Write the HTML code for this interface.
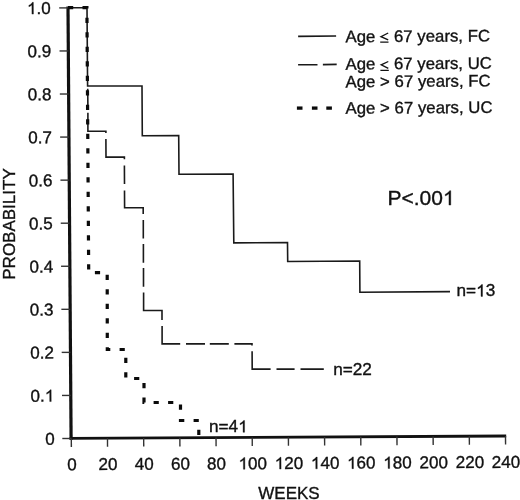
<!DOCTYPE html>
<html><head><meta charset="utf-8"><title>Kaplan-Meier</title>
<style>
html,body{margin:0;padding:0;background:#fff;}
body{width:520px;height:500px;overflow:hidden;}
svg{display:block;will-change:transform;}
.h{fill:transparent;stroke:none;}
text{font-family:"Liberation Sans",sans-serif;fill:#111;stroke:#111;stroke-width:0.35px;}
</style></head>
<body>
<svg width="520" height="500" viewBox="0 0 520 500">
<rect width="520" height="500" fill="#fff"/>
<line x1="68" y1="6.4" x2="71.1" y2="439.8" stroke="#111" stroke-width="3.2"/>
<line x1="69.6" y1="438.4" x2="506.2" y2="436" stroke="#111" stroke-width="2.8"/>
<line x1="62.30" y1="438.50" x2="71.10" y2="438.50" stroke="#333" stroke-width="1.4"/>
<text x="54.77" y="444.60" text-anchor="end" font-size="17.1" transform="rotate(-0.37 54.77 444.60)">0</text>
<line x1="61.99" y1="395.44" x2="70.79" y2="395.44" stroke="#333" stroke-width="1.4"/>
<text id="t1" x="54.38" y="401.54" text-anchor="end" font-size="17.1" transform="rotate(-0.37 54.38 401.54)">0.<tspan class="h">1</tspan></text><g transform="rotate(-0.37 54.38 401.54)"><path d="M763,0 L583,0 L583,1102.4031377899043 Q518,1042.8137789904501 412.5,983.2244201909958 Q307,923.6350613915415 223,893.8403819918144 L223,1061.075034106412 Q374,1129.3144611186904 487,1226.387448840382 Q600,1323.4604365620737 647,1409.0 L763,1409.0 Z" transform="translate(44.86 401.54) scale(0.00835 -0.00835)" fill="#111" stroke="#111" stroke-width="0.35" vector-effect="non-scaling-stroke"/></g>
<line x1="61.68" y1="352.38" x2="70.48" y2="352.38" stroke="#333" stroke-width="1.4"/>
<text x="53.98" y="358.48" text-anchor="end" font-size="17.1" transform="rotate(-0.37 53.98 358.48)">0.2</text>
<line x1="61.37" y1="309.32" x2="70.17" y2="309.32" stroke="#333" stroke-width="1.4"/>
<text x="53.59" y="315.42" text-anchor="end" font-size="17.1" transform="rotate(-0.37 53.59 315.42)">0.3</text>
<line x1="61.06" y1="266.26" x2="69.86" y2="266.26" stroke="#333" stroke-width="1.4"/>
<text x="53.20" y="272.36" text-anchor="end" font-size="17.1" transform="rotate(-0.37 53.20 272.36)">0.4</text>
<line x1="60.75" y1="223.20" x2="69.55" y2="223.20" stroke="#333" stroke-width="1.4"/>
<text x="52.81" y="229.30" text-anchor="end" font-size="17.1" transform="rotate(-0.37 52.81 229.30)">0.5</text>
<line x1="60.44" y1="180.14" x2="69.24" y2="180.14" stroke="#333" stroke-width="1.4"/>
<text x="52.42" y="186.24" text-anchor="end" font-size="17.1" transform="rotate(-0.37 52.42 186.24)">0.6</text>
<line x1="60.13" y1="137.08" x2="68.93" y2="137.08" stroke="#333" stroke-width="1.4"/>
<text x="52.02" y="143.18" text-anchor="end" font-size="17.1" transform="rotate(-0.37 52.02 143.18)">0.7</text>
<line x1="59.82" y1="94.02" x2="68.62" y2="94.02" stroke="#333" stroke-width="1.4"/>
<text x="51.63" y="100.12" text-anchor="end" font-size="17.1" transform="rotate(-0.37 51.63 100.12)">0.8</text>
<line x1="59.52" y1="50.96" x2="68.32" y2="50.96" stroke="#333" stroke-width="1.4"/>
<text x="51.24" y="57.06" text-anchor="end" font-size="17.1" transform="rotate(-0.37 51.24 57.06)">0.9</text>
<line x1="59.21" y1="7.90" x2="68.01" y2="7.90" stroke="#333" stroke-width="1.4"/>
<text id="t10" x="50.85" y="14.00" text-anchor="end" font-size="17.1" transform="rotate(-0.37 50.85 14.00)"><tspan class="h">1</tspan>.0</text><g transform="rotate(-0.37 50.85 14.00)"><path d="M763,0 L583,0 L583,1102.4031377899043 Q518,1042.8137789904501 412.5,983.2244201909958 Q307,923.6350613915415 223,893.8403819918144 L223,1061.075034106412 Q374,1129.3144611186904 487,1226.387448840382 Q600,1323.4604365620737 647,1409.0 L763,1409.0 Z" transform="translate(27.07 14.00) scale(0.00835 -0.00835)" fill="#111" stroke="#111" stroke-width="0.35" vector-effect="non-scaling-stroke"/></g>
<line x1="71.30" y1="438.40" x2="71.36" y2="447.00" stroke="#333" stroke-width="1.4"/>
<text x="71.90" y="470.20" text-anchor="middle" font-size="17.1" transform="rotate(-0.37 71.30 470.20)">0</text>
<line x1="107.48" y1="438.20" x2="107.54" y2="446.80" stroke="#333" stroke-width="1.4"/>
<text x="108.08" y="470.00" text-anchor="middle" font-size="17.1" transform="rotate(-0.37 107.48 470.00)">20</text>
<line x1="143.67" y1="438.00" x2="143.73" y2="446.60" stroke="#333" stroke-width="1.4"/>
<text x="144.27" y="469.80" text-anchor="middle" font-size="17.1" transform="rotate(-0.37 143.67 469.80)">40</text>
<line x1="179.85" y1="437.80" x2="179.91" y2="446.40" stroke="#333" stroke-width="1.4"/>
<text x="180.45" y="469.60" text-anchor="middle" font-size="17.1" transform="rotate(-0.37 179.85 469.60)">60</text>
<line x1="216.03" y1="437.60" x2="216.09" y2="446.20" stroke="#333" stroke-width="1.4"/>
<text x="216.63" y="469.40" text-anchor="middle" font-size="17.1" transform="rotate(-0.37 216.03 469.40)">80</text>
<line x1="252.22" y1="437.40" x2="252.28" y2="446.00" stroke="#333" stroke-width="1.4"/>
<text id="t16" x="252.82" y="469.20" text-anchor="middle" font-size="17.1" transform="rotate(-0.37 252.22 469.20)"><tspan class="h">1</tspan>00</text><g transform="rotate(-0.37 252.22 469.20)"><path d="M763,0 L583,0 L583,1102.4031377899043 Q518,1042.8137789904501 412.5,983.2244201909958 Q307,923.6350613915415 223,893.8403819918144 L223,1061.075034106412 Q374,1129.3144611186904 487,1226.387448840382 Q600,1323.4604365620737 647,1409.0 L763,1409.0 Z" transform="translate(238.55 469.20) scale(0.00835 -0.00835)" fill="#111" stroke="#111" stroke-width="0.35" vector-effect="non-scaling-stroke"/></g>
<line x1="288.40" y1="437.20" x2="288.46" y2="445.80" stroke="#333" stroke-width="1.4"/>
<text id="t17" x="289.00" y="469.00" text-anchor="middle" font-size="17.1" transform="rotate(-0.37 288.40 469.00)"><tspan class="h">1</tspan>20</text><g transform="rotate(-0.37 288.40 469.00)"><path d="M763,0 L583,0 L583,1102.4031377899043 Q518,1042.8137789904501 412.5,983.2244201909958 Q307,923.6350613915415 223,893.8403819918144 L223,1061.075034106412 Q374,1129.3144611186904 487,1226.387448840382 Q600,1323.4604365620737 647,1409.0 L763,1409.0 Z" transform="translate(274.73 469.00) scale(0.00835 -0.00835)" fill="#111" stroke="#111" stroke-width="0.35" vector-effect="non-scaling-stroke"/></g>
<line x1="324.58" y1="437.00" x2="324.64" y2="445.60" stroke="#333" stroke-width="1.4"/>
<text id="t18" x="325.18" y="468.80" text-anchor="middle" font-size="17.1" transform="rotate(-0.37 324.58 468.80)"><tspan class="h">1</tspan>40</text><g transform="rotate(-0.37 324.58 468.80)"><path d="M763,0 L583,0 L583,1102.4031377899043 Q518,1042.8137789904501 412.5,983.2244201909958 Q307,923.6350613915415 223,893.8403819918144 L223,1061.075034106412 Q374,1129.3144611186904 487,1226.387448840382 Q600,1323.4604365620737 647,1409.0 L763,1409.0 Z" transform="translate(310.91 468.80) scale(0.00835 -0.00835)" fill="#111" stroke="#111" stroke-width="0.35" vector-effect="non-scaling-stroke"/></g>
<line x1="360.77" y1="436.80" x2="360.83" y2="445.40" stroke="#333" stroke-width="1.4"/>
<text id="t19" x="361.37" y="468.60" text-anchor="middle" font-size="17.1" transform="rotate(-0.37 360.77 468.60)"><tspan class="h">1</tspan>60</text><g transform="rotate(-0.37 360.77 468.60)"><path d="M763,0 L583,0 L583,1102.4031377899043 Q518,1042.8137789904501 412.5,983.2244201909958 Q307,923.6350613915415 223,893.8403819918144 L223,1061.075034106412 Q374,1129.3144611186904 487,1226.387448840382 Q600,1323.4604365620737 647,1409.0 L763,1409.0 Z" transform="translate(347.10 468.60) scale(0.00835 -0.00835)" fill="#111" stroke="#111" stroke-width="0.35" vector-effect="non-scaling-stroke"/></g>
<line x1="396.95" y1="436.60" x2="397.01" y2="445.20" stroke="#333" stroke-width="1.4"/>
<text id="t20" x="397.55" y="468.40" text-anchor="middle" font-size="17.1" transform="rotate(-0.37 396.95 468.40)"><tspan class="h">1</tspan>80</text><g transform="rotate(-0.37 396.95 468.40)"><path d="M763,0 L583,0 L583,1102.4031377899043 Q518,1042.8137789904501 412.5,983.2244201909958 Q307,923.6350613915415 223,893.8403819918144 L223,1061.075034106412 Q374,1129.3144611186904 487,1226.387448840382 Q600,1323.4604365620737 647,1409.0 L763,1409.0 Z" transform="translate(383.28 468.40) scale(0.00835 -0.00835)" fill="#111" stroke="#111" stroke-width="0.35" vector-effect="non-scaling-stroke"/></g>
<line x1="433.13" y1="436.40" x2="433.19" y2="445.00" stroke="#333" stroke-width="1.4"/>
<text x="433.73" y="468.20" text-anchor="middle" font-size="17.1" transform="rotate(-0.37 433.13 468.20)">200</text>
<line x1="469.32" y1="436.20" x2="469.38" y2="444.80" stroke="#333" stroke-width="1.4"/>
<text x="469.92" y="468.00" text-anchor="middle" font-size="17.1" transform="rotate(-0.37 469.32 468.00)">220</text>
<line x1="505.50" y1="436.00" x2="505.56" y2="444.60" stroke="#333" stroke-width="1.4"/>
<text x="506.10" y="467.80" text-anchor="middle" font-size="17.1" transform="rotate(-0.37 505.50 467.80)">240</text>
<text x="289" y="498.6" text-anchor="middle" font-size="17">WEEKS</text>
<text transform="translate(14.6 224) rotate(-90)" text-anchor="middle" font-size="17">PROBABILITY</text>
<path d="M68,7.7 L87,7.7 L87.6,86 L142,86 L142.3,135.8 L178.7,135.6 L179,174.3 L233.1,174.1 L233.8,242.9 L287.5,242.6 L287.7,261.5 L359.7,261 L359.9,292.3 L450,291.6" fill="none" stroke="#1a1a1a" stroke-width="1.6" stroke-linejoin="miter"/>
<path d="M87.7,88.8 L87.9,107.2 M87.9,112.8 L87.9,131.2 L105.9,131.2 L105.9,133 M105.9,138.9 L106,157.1 L124.4,157.1 L124.4,159.2 M124.4,165.6 L124.5,184 M124.5,190.4 L124.6,207.7 L143.2,207.7 L143.2,213.9 M143.3,220 L143.3,238.4 M143.4,244.1 L143.4,262.8 M143.5,268.1 L143.5,286.8 M143.6,292.4 L143.6,310.5 L162,310.5 L162,320.1 M162.1,326 L162.1,343.9 L180.2,343.9 M186,343.9 L205,343.9 M209.8,343.9 L228.8,343.9 M234.4,343.9 L252,343.9 L252,345.6 M252.1,351.2 L252.2,369.1 L270.6,369.1 M276.5,369.1 L294.6,369.1 M300.5,369.1 L323.8,369.1" fill="none" stroke="#1a1a1a" stroke-width="1.6" stroke-linejoin="miter"/>
<path d="M68,7.7 L86.9,7.7 L88.7,272.6 L107.2,272.6 L107.3,349.5 L125.8,349.5 L125.8,378.5 L144,378.5 L144,402.5 L180.5,402.5 L180.5,420.5 L198.8,420.5 L198.8,437" fill="none" stroke="#0a0a0a" stroke-width="3.2" stroke-dasharray="5.2 9.3" stroke-linejoin="miter"/>
<line x1="298.1" y1="36.4" x2="336.1" y2="36.0" stroke="#1a1a1a" stroke-width="1.6"/>
<line x1="298.1" y1="64.8" x2="317.5" y2="64.7" stroke="#1a1a1a" stroke-width="1.6"/>
<line x1="322.9" y1="64.6" x2="336.7" y2="64.4" stroke="#1a1a1a" stroke-width="1.6"/>
<line x1="296.9" y1="108.1" x2="302.5" y2="108.1" stroke="#0a0a0a" stroke-width="3.3"/>
<line x1="311.9" y1="108.1" x2="317.5" y2="108.1" stroke="#0a0a0a" stroke-width="3.3"/>
<line x1="326.3" y1="108.1" x2="331.90000000000003" y2="108.1" stroke="#0a0a0a" stroke-width="3.3"/>
<text id="t26" x="345.6" y="42.3" font-size="16.8" transform="rotate(-0.37 345.6 42.3)">Age <tspan class="h">≤</tspan> 67 years, FC</text><g transform="rotate(-0.37 345.6 42.3)"></g>
<text id="t27" x="345.6" y="69.7" font-size="16.8" transform="rotate(-0.37 345.6 69.7)">Age <tspan class="h">≤</tspan> 67 years, UC</text><g transform="rotate(-0.37 345.6 69.7)"></g>
<text x="345.6" y="87.4" font-size="16.8" transform="rotate(-0.37 345.6 87.4)">Age &gt; 67 years, FC</text>
<text x="345.6" y="113.8" font-size="16.8" transform="rotate(-0.37 345.6 113.8)">Age &gt; 67 years, UC</text>
<path d="M388.2,33.0 L381.0,36.6 L388.2,39.8 M380.2,42.15 L388.5,42.15" fill="none" stroke="#111" stroke-width="1.35"/>
<path d="M388.3,61.5 L381.2,64.8 L388.3,68.4 M380.4,70.3 L388.8,70.3" fill="none" stroke="#111" stroke-width="1.35"/>
<text id="t30" x="387.5" y="205.1" font-size="21">P&lt;.00<tspan class="h">1</tspan></text><path d="M763,0 L583,0 L583,1102.4031377899043 Q518,1042.8137789904501 412.5,983.2244201909958 Q307,923.6350613915415 223,893.8403819918144 L223,1061.075034106412 Q374,1129.3144611186904 487,1226.387448840382 Q600,1323.4604365620737 647,1409.0 L763,1409.0 Z" transform="translate(442.97 205.10) scale(0.01025 -0.01025)" fill="#111" stroke="#111" stroke-width="0.35" vector-effect="non-scaling-stroke"/>
<text id="t31" x="456.5" y="296.4" font-size="17.2">n=<tspan class="h">1</tspan>3</text><path d="M763,0 L583,0 L583,1102.4031377899043 Q518,1042.8137789904501 412.5,983.2244201909958 Q307,923.6350613915415 223,893.8403819918144 L223,1061.075034106412 Q374,1129.3144611186904 487,1226.387448840382 Q600,1323.4604365620737 647,1409.0 L763,1409.0 Z" transform="translate(476.11 296.40) scale(0.00840 -0.00840)" fill="#111" stroke="#111" stroke-width="0.35" vector-effect="non-scaling-stroke"/>
<text x="333.2" y="374.5" font-size="17.2">n=22</text>
<text id="t33" x="209" y="432.3" font-size="17.2">n=4<tspan class="h">1</tspan></text><path d="M763,0 L583,0 L583,1102.4031377899043 Q518,1042.8137789904501 412.5,983.2244201909958 Q307,923.6350613915415 223,893.8403819918144 L223,1061.075034106412 Q374,1129.3144611186904 487,1226.387448840382 Q600,1323.4604365620737 647,1409.0 L763,1409.0 Z" transform="translate(238.16 432.30) scale(0.00840 -0.00840)" fill="#111" stroke="#111" stroke-width="0.35" vector-effect="non-scaling-stroke"/>
</svg>
</body></html>
